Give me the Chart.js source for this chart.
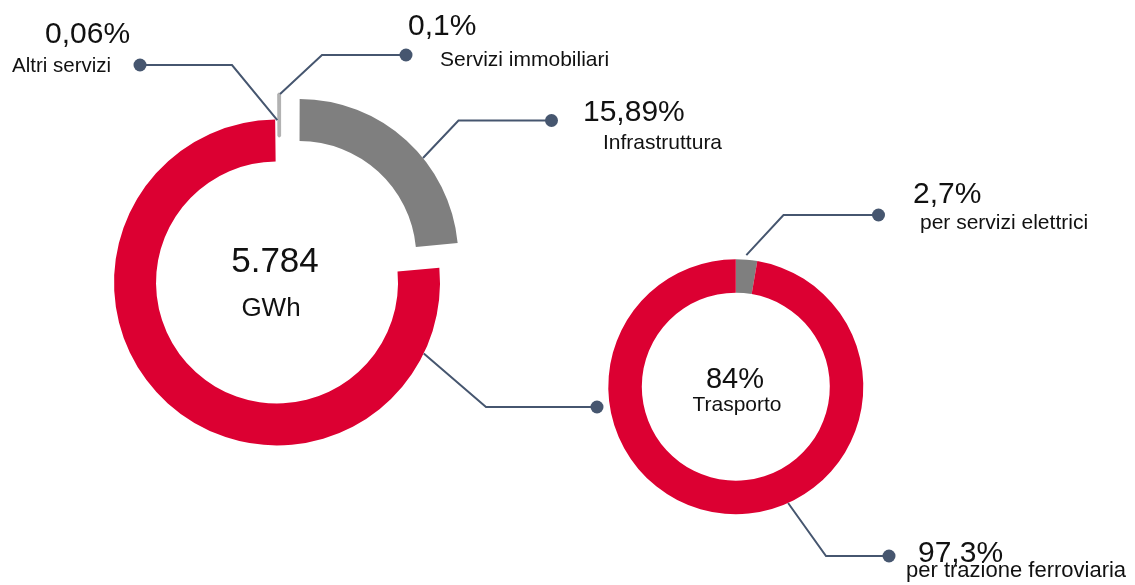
<!DOCTYPE html>
<html>
<head>
<meta charset="utf-8">
<script src="https://cdn.jsdelivr.net/npm/chart.js@4.4.1/dist/chart.umd.min.js"></script>
<style>
  html, body { margin: 0; padding: 0; background: #ffffff; }
  #wrap { position: relative; width: 1135px; height: 585px; overflow: hidden;
          font-family: "Liberation Sans", Arial, sans-serif; color: #111111; }
  #wrap canvas { position: absolute; left: 0; top: 0; }
  .t { position: absolute; white-space: nowrap; line-height: 1; }
</style>
</head>
<body>
<div id="wrap">
  <canvas id="mainChart" width="1135" height="585"></canvas>
  <canvas id="transportChart" width="1135" height="585"></canvas>
</div>
<script>
// ---------------- DATA ----------------
// Main doughnut (total consumption)
const mainLabels = ['Altri servizi', 'Servizi immobiliari', 'Infrastruttura', 'Trasporto'];
const mainPercentText = ['0,06%', '0,1%', '15,89%', '84%'];
// arc sizes as they are drawn in the reference picture (share of the full circle)
const mainArcShare = [0.06, 0.1, 23.45, 76.39];
const mainCenterValue = '5.784';
const mainCenterUnit = 'GWh';

// Detail doughnut (Trasporto)
const transportLabels = ['per servizi elettrici', 'per trazione ferroviaria'];
const transportValues = [2.7, 97.3];
const transportPercentText = ['2,7%', '97,3%'];
const transportCenterValue = '84%';
const transportCenterLabel = 'Trasporto';

// ---------------- STYLE / LAYOUT ----------------
const RED = '#DC0032', GREY = '#7F7F7F', LIGHT = '#B2B2B2', LEADER = '#46566F';
const PCT_SIZE = 30;

const mainCenter = { x: 279.7, y: 279.5 };
const transportCenter = { x: 735.8, y: 386.7 };

const mainLeaders = [
  { i: 0, frac: 0.5,    rf: 0.38, dx: -1.5, extra: 0, elbow: [232, 65],      dot: [140, 65] },
  { i: 1, frac: 0.5,    rf: 1.0,  dx: 0.5,  extra: 0, elbow: [322, 55],      dot: [406, 55] },
  { i: 2, frac: 0.603,  rf: 1.0,  dx: 0,    extra: 0, elbow: [458.5, 120.5], dot: [551.5, 120.5] },
  { i: 3, frac: 0.1136, rf: 1.0,  dx: 0,    extra: 0, elbow: [486, 407],     dot: [597, 407] }
];
const transportLeaders = [
  { i: 0, frac: 0.47,  rf: 1.0, dx: 0, extra: 4.5, elbow: [783.5, 215], dot: [878.5, 215] },
  { i: 1, frac: 0.417, rf: 1.0, dx: 0, extra: 0,   elbow: [826, 556],   dot: [889, 556] }
];

const mainTextPos = [
  { pct: [45, 43.5],   lab: [12, 72.5],   labSize: 20.5 },
  { pct: [408, 35],    lab: [440, 66],    labSize: 21 },
  { pct: [583, 121.5], lab: [603, 148.5], labSize: 21 }
];
const transportTextPos = [
  { pct: [913, 203.5], lab: [920, 229], labSize: 21 },
  { pct: [918, 562],   lab: [906, 578], labSize: 22 }
];

// ---------------- HELPERS ----------------
function arcPoint(chart, L) {
  const el = chart.getDatasetMeta(0).data[L.i];
  const o = el.options;
  const t = (o.offset || 0) / 4;
  const circ = el.endAngle - el.startAngle;
  const fix = 1 - Math.sin(Math.min(Math.PI, circ));
  const mid = (el.startAngle + el.endAngle) / 2;
  const cx = el.x + Math.cos(mid) * t;
  const cy = el.y + Math.sin(mid) * t;
  const rin = el.innerRadius + t * fix;
  const rout = el.outerRadius + t * fix;
  const r = rin + (rout - rin) * L.rf + L.extra;
  const a = el.startAngle + L.frac * circ;
  return [cx + Math.cos(a) * r + L.dx, cy + Math.sin(a) * r];
}

function leaderPlugin(leaders) {
  return {
    id: 'leaders',
    afterDatasetsDraw(chart) {
      const ctx = chart.ctx;
      ctx.save();
      ctx.strokeStyle = LEADER;
      ctx.fillStyle = LEADER;
      ctx.lineWidth = 2;
      ctx.lineJoin = 'miter';
      leaders.forEach(L => {
        const p = arcPoint(chart, L);
        ctx.beginPath();
        ctx.moveTo(p[0], p[1]);
        ctx.lineTo(L.elbow[0], L.elbow[1]);
        ctx.lineTo(L.dot[0], L.dot[1]);
        ctx.stroke();
        ctx.beginPath();
        ctx.arc(L.dot[0], L.dot[1], 6.5, 0, Math.PI * 2);
        ctx.fill();
      });
      ctx.restore();
    }
  };
}

function padFor(c) {
  const W = 1135, H = 585;
  const p = { left: 0, right: 0, top: 0, bottom: 0 };
  if (2 * c.x < W) p.right = W - 2 * c.x; else p.left = 2 * c.x - W;
  if (2 * c.y < H) p.bottom = H - 2 * c.y; else p.top = 2 * c.y - H;
  return p;
}

// ---------------- CHARTS ----------------
new Chart(document.getElementById('mainChart'), {
  type: 'doughnut',
  data: {
    labels: mainLabels,
    datasets: [{
      data: mainArcShare,
      backgroundColor: [LIGHT, LIGHT, GREY, RED],
      borderColor: [LIGHT, LIGHT, GREY, RED],
      borderWidth: [3, 3, 0, 0],
      offset: [53, 53, 116, 16]
    }]
  },
  options: {
    responsive: false,
    animation: false,
    events: [],
    rotation: -0.43,
    radius: 159,
    cutout: (117 / 159 * 100) + '%',
    layout: { padding: padFor(mainCenter) },
    plugins: { legend: { display: false }, tooltip: { enabled: false } }
  },
  plugins: [leaderPlugin(mainLeaders)]
});

new Chart(document.getElementById('transportChart'), {
  type: 'doughnut',
  data: {
    labels: transportLabels,
    datasets: [{
      data: transportValues,
      backgroundColor: [GREY, RED],
      borderWidth: 0
    }]
  },
  options: {
    responsive: false,
    animation: false,
    events: [],
    rotation: 0,
    radius: 127.5,
    cutout: (94 / 127.5 * 100) + '%',
    layout: { padding: padFor(transportCenter) },
    plugins: { legend: { display: false }, tooltip: { enabled: false } }
  },
  plugins: [leaderPlugin(transportLeaders)]
});

// ---------------- TEXT ----------------
const wrap = document.getElementById('wrap');
function addText(str, x, base, size, align) {
  const d = document.createElement('div');
  d.className = 't';
  d.textContent = str;
  d.style.fontSize = size + 'px';
  d.style.top = (base - 0.8465 * size) + 'px';
  d.style.left = x + 'px';
  if (align === 'center') d.style.transform = 'translateX(-50%)';
  wrap.appendChild(d);
}
mainTextPos.forEach((p, k) => {
  addText(mainPercentText[k], p.pct[0], p.pct[1], PCT_SIZE);
  addText(mainLabels[k], p.lab[0], p.lab[1], p.labSize);
});
transportTextPos.forEach((p, k) => {
  addText(transportPercentText[k], p.pct[0], p.pct[1], PCT_SIZE);
  addText(transportLabels[k], p.lab[0], p.lab[1], p.labSize);
});
addText(mainCenterValue, 275, 271.5, 35, 'center');
addText(mainCenterUnit, 271, 316.5, 26, 'center');
addText(transportCenterValue, 735, 388.5, 29, 'center');
addText(transportCenterLabel, 737, 411, 21, 'center');
</script>
</body>
</html>
